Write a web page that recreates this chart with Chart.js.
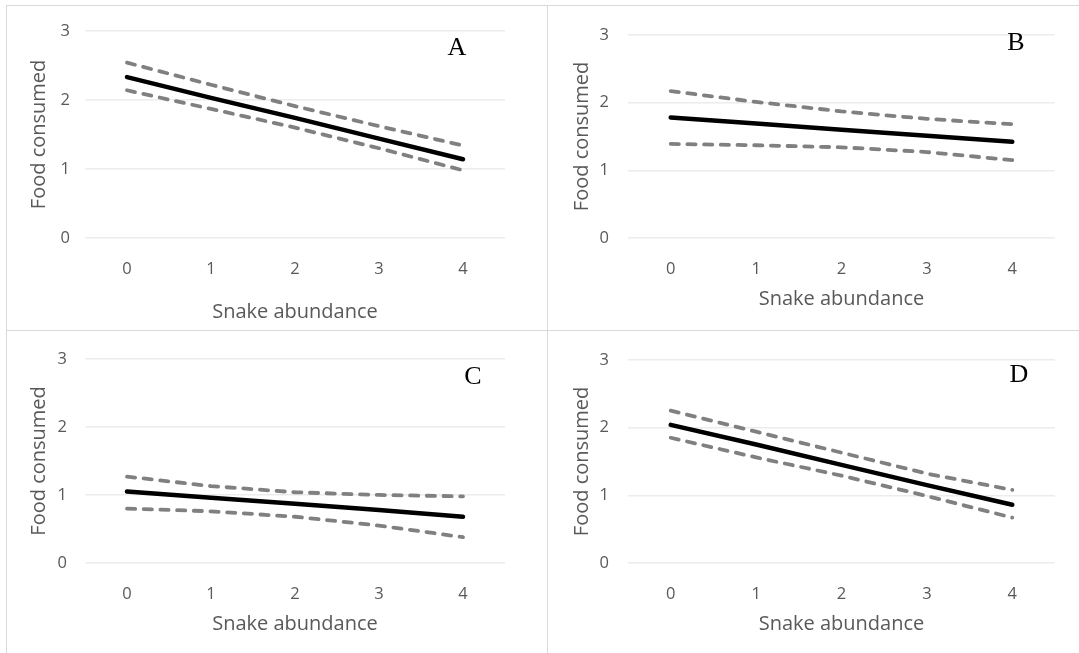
<!DOCTYPE html>
<html>
<head>
<meta charset="utf-8">
<script src="https://cdn.jsdelivr.net/npm/chart.js@4"></script>
<style>
  body { margin: 0; background: #fff; width: 1079px; height: 653px; overflow: hidden; position: relative; }
  .panel { position: absolute; }
  .rule { position: absolute; background: #d9d9d9; }
  .tag { position: absolute; font-family: 'Liberation Serif', 'Times New Roman', serif; font-size: 26px; line-height: 1; color: #000; transform: translateX(-50%); }
</style>
</head>
<body>
<div class="rule" style="left:6px;top:5px;width:1073px;height:1px"></div>
<div class="rule" style="left:6px;top:5px;width:1px;height:648px"></div>
<div class="rule" style="left:547px;top:5px;width:1px;height:648px"></div>
<div class="rule" style="left:6px;top:330px;width:1073px;height:1px"></div>

<div class="panel" style="left:7px;top:6px;width:540px;height:324px"><canvas id="chartA"></canvas></div>
<div class="panel" style="left:548px;top:6px;width:531px;height:324px"><canvas id="chartB"></canvas></div>
<div class="panel" style="left:7px;top:331px;width:540px;height:322px"><canvas id="chartC"></canvas></div>
<div class="panel" style="left:548px;top:331px;width:531px;height:322px"><canvas id="chartD"></canvas></div>

<div class="tag" style="left:457px;top:34px">A</div>
<div class="tag" style="left:1016px;top:29px">B</div>
<div class="tag" style="left:473px;top:363px">C</div>
<div class="tag" style="left:1019px;top:361px">D</div>

<script>
// snake abundance levels on the x axis
const abundance = ['0', '1', '2', '3', '4'];
const yTicks = [0, 1, 2, 3];

// fitted food consumption with upper / lower bands
const meanA = [2.33, 2.03, 1.74, 1.44, 1.14];
const upperA = [2.54, 2.22, 1.91, 1.62, 1.34];
const lowerA = [2.14, 1.87, 1.60, 1.30, 0.98];

const meanB = [1.78, 1.69, 1.60, 1.51, 1.42];
const upperB = [2.17, 2.01, 1.87, 1.76, 1.68];
const lowerB = [1.39, 1.37, 1.34, 1.27, 1.15];

const meanC = [1.05, 0.96, 0.87, 0.78, 0.68];
const upperC = [1.27, 1.13, 1.04, 1.00, 0.98];
const lowerC = [0.80, 0.76, 0.68, 0.55, 0.38];

const meanD = [2.04, 1.75, 1.45, 1.15, 0.86];
const upperD = [2.25, 1.94, 1.63, 1.32, 1.08];
const lowerD = [1.85, 1.56, 1.29, 0.99, 0.67];

const textGray = '#595959';
const uiFont = "'Open Sans', sans-serif";

function band(data) {
    return {
        data: data,
        borderColor: '#808080',
        borderWidth: 3.8,
        borderDash: [8.2, 8.5],
        borderCapStyle: 'round',
        pointRadius: 0,
        tension: 0,
        fill: false
    };
}

function makePanel(id, mean, upper, lower, box) {
    const ctx = document.getElementById(id).getContext('2d');
    return new Chart(ctx, {
        type: 'line',
        data: {
            labels: abundance,
            datasets: [
                band(upper),
                band(lower),
                {
                    data: mean,
                    borderColor: '#000',
                    borderWidth: 4.5,
                    borderCapStyle: 'round',
                    pointRadius: 0,
                    tension: 0,
                    fill: false
                }
            ]
        },
        options: {
            responsive: true,
            maintainAspectRatio: false,
            animation: false,
            layout: { padding: { top: box.padTop, right: box.padRight, left: 0, bottom: 0 } },
            plugins: { legend: { display: false }, tooltip: { enabled: false } },
            scales: {
                x: {
                    offset: true,
                    grid: { display: false },
                    border: { display: false },
                    ticks: { color: textGray, font: { family: uiFont, size: 16.5 }, padding: box.xTickPad },
                    title: {
                        display: true,
                        text: 'Snake abundance',
                        color: textGray,
                        font: { family: uiFont, size: 20 },
                        padding: { top: 0, bottom: box.xTitlePad }
                    },
                    afterFit: function (s) { s.height = box.xHeight; }
                },
                y: {
                    min: yTicks[0],
                    max: yTicks[yTicks.length - 1],
                    afterBuildTicks: function (s) { s.ticks = yTicks.map(v => ({ value: v })); },
                    grid: { color: '#ececec', lineWidth: 1.5, drawTicks: false },
                    border: { display: false },
                    ticks: { color: textGray, font: { family: uiFont, size: 16.5 }, padding: box.yTickPad },
                    title: {
                        display: true,
                        text: 'Food consumed',
                        color: textGray,
                        font: { family: uiFont, size: 20 },
                        padding: { top: box.yTitlePad, bottom: 0 }
                    },
                    afterFit: function (s) { s.width = box.yWidth; }
                }
            }
        }
    });
}

makePanel('chartA', meanA, upperA, lowerA,
    { padTop: 21, padRight: 42, yWidth: 78, xHeight: 92, yTickPad: 15, xTickPad: 13, yTitlePad: 20, xTitlePad: 6 });
makePanel('chartB', meanB, upperB, lowerB,
    { padTop: 21, padRight: 24, yWidth: 80, xHeight: 92, yTickPad: 19, xTickPad: 13, yTitlePad: 22, xTitlePad: 19 });
makePanel('chartC', meanC, upperC, lowerC,
    { padTop: 20, padRight: 42, yWidth: 78, xHeight: 90, yTickPad: 18, xTickPad: 13, yTitlePad: 20, xTitlePad: 16.5 });
makePanel('chartD', meanD, upperD, lowerD,
    { padTop: 20, padRight: 24, yWidth: 80, xHeight: 90, yTickPad: 19, xTickPad: 13, yTitlePad: 22, xTitlePad: 16.5 });
</script>
</body>
</html>
